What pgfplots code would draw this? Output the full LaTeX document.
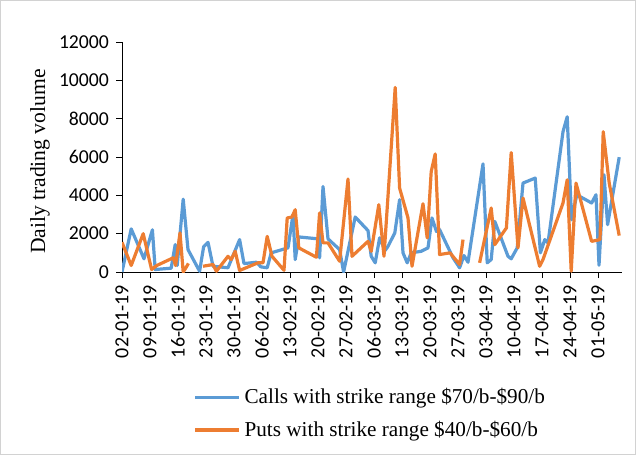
\documentclass[border=0pt]{standalone}
\usepackage{fontspec}
\setmainfont{Liberation Serif}
\newfontfamily\tickfont{Carlito}
\usepackage{pgfplots}
\pgfplotsset{compat=1.18}

\definecolor{callblue}{HTML}{5B9BD5}
\definecolor{putorange}{HTML}{ED7D31}

\begin{document}
\begin{tikzpicture}
\begin{axis}[
    scale only axis,
    width=250pt, height=115pt,
    xmin=0, xmax=125,
    ymin=0, ymax=12000,
    axis x line*=bottom,
    axis y line*=left,
    axis line style={line width=0.5pt},
    tick align=outside,
    major tick length=3pt,
    tick style={black, line width=0.5pt},
    xtick={0,7,...,119},
    xticklabels={02-01-19,09-01-19,16-01-19,23-01-19,30-01-19,06-02-19,13-02-19,20-02-19,27-02-19,06-03-19,13-03-19,20-03-19,27-03-19,03-04-19,10-04-19,17-04-19,24-04-19,01-05-19},
    x tick label style={rotate=90, anchor=east, font=\tickfont\fontsize{10}{10}\selectfont},
    ytick={0,2000,...,12000},
    y tick label style={font=\tickfont\fontsize{9.85}{10}\selectfont},
    /pgf/number format/assume math mode=true,
    /pgf/number format/set thousands separator={},
    scaled y ticks=false,
    every axis y label/.style={at={(axis description cs:-0.164,0.48)}, rotate=90, anchor=center},
    ylabel={\fontsize{10.8}{12}\selectfont Daily trading volume},
    unbounded coords=jump,
    legend style={draw=none, fill=none, at={(axis description cs:0.13,-0.47)}, anchor=north west,
        font=\fontsize{10.6}{12}\selectfont, row sep=3pt},
    legend cell align=left,
    legend image code/.code={\draw[#1] (0pt,0pt) -- (22pt,0pt);},
]
\addplot[callblue, line width=1.6pt, line join=round] coordinates {
(0,0)(2.3,2250)(5.5,690)(7.6,2200)(8.3,130)(12.3,200)(13.3,1430)(13.8,340)
(15.3,3800)(16.5,1170)(19.4,40)(20.4,1310)(21.5,1550)(22.75,300)(26.5,220)
(29.4,1690)(30.5,440)(33.6,510)(34.7,270)(36.3,220)(37.3,1000)(41.5,1260)
(42.75,3000)(43.3,650)(44.2,1830)(49,1730)(49.4,740)(50.25,4460)(51.5,1730)
(54.4,1170)(55.4,0)(58.3,2870)(61.5,2160)(62.3,820)(63.3,480)(64.4,1780)
(65.8,1130)(66.5,1340)(68.2,2040)(69.4,3770)(70.25,1000)(71.3,480)(72.3,1000)
(74.8,1080)(76.5,1260)(77.5,2820)(78.6,2120)(79.4,2210)(82.75,740)(84.4,220)
(85.5,860)(86.5,510)(90.25,5640)(91.3,480)(92.3,650)(93.2,2640)(96.5,820)
(97.3,690)(98.8,1260)(100.25,4640)(103.3,4900)(104.6,1000)(105.7,1690)
(106.5,1520)(110.25,7320)(111.3,8100)(112.4,2730)(113.7,4030)(117.4,3600)
(118.5,4030)(119.25,350)(120.5,5070)(121.4,2470)(124.3,5990)
};
\addlegendentry{Calls with strike range \$70/b-\$90/b}
\addplot[putorange, line width=1.6pt, line join=round] coordinates {
(0,1550)(2.3,340)(5.3,2000)(7.4,130)(8.7,340)(12.8,740)(13.4,340)(14.5,2040)
(15.3,0)(16.2,300)(16.6,450)(18,nan)
(20.25,300)(22.75,390)(23.6,40)(26.5,820)(27.3,650)(28.3,1080)(29.4,80)
(34,480)(35.25,480)(36.3,1860)(37.5,820)(40.5,90)(41.3,2820)(42.5,2870)
(43.3,3250)(44.2,1260)(48.6,770)(49.4,3080)(50.25,1520)(51.5,1520)(54.4,560)
(56.5,4850)(57.5,820)(61.5,1600)(62.3,1080)(64.2,3510)(65.5,820)(68.3,9630)
(69.4,4380)(71.5,2820)(72.5,300)(75.25,3560)(76.3,1780)(77.3,5240)(78.3,6160)
(79.4,910)(82,1000)(84.4,390)(85.25,1690)(87,nan)
(89.4,480)(92.3,3340)(93.2,1430)(96.1,2300)(97.3,6230)(99,1260)(100.25,3860)
(104.4,300)(105.25,650)(110.25,3600)(111.3,4810)(112.3,40)(113.5,4640)
(117.4,1600)(119.5,1690)(120.3,7320)(121.8,4640)(124.3,1900)
};
\addlegendentry{Puts with strike range \$40/b-\$60/b}
\end{axis}
\draw[gray!35, line width=0.5pt] (-60.75pt,-91.25pt) rectangle (256.75pt,135.75pt);
\end{tikzpicture}
\end{document}
